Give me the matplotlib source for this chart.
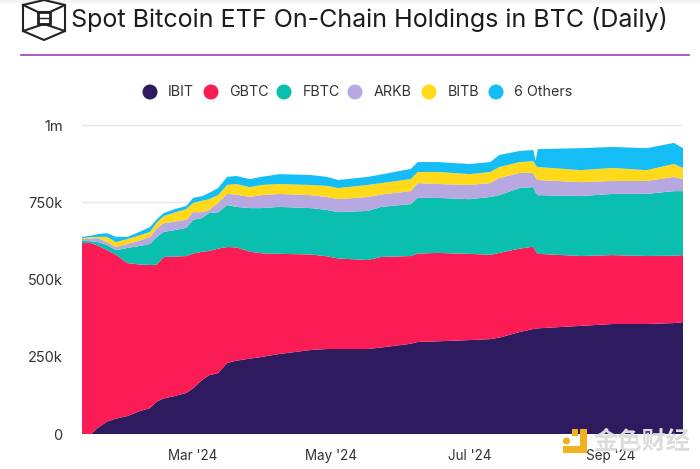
import numpy as np
import pandas as pd
import matplotlib
matplotlib.use("Agg")
import matplotlib.pyplot as plt
from matplotlib.patches import Rectangle, Circle

plt.rcParams['font.family'] = ['Inter', 'Noto Sans CJK SC', 'DejaVu Sans']

# sample dates, the points around 29-31 Jul are the GBTC/6 Others jump
dates = pd.to_datetime([
    "2024-01-12", "2024-01-16", "2024-01-19", "2024-01-23", "2024-01-27", "2024-02-01", "2024-02-06", "2024-02-11",
    "2024-02-14", "2024-02-17", "2024-02-22", "2024-02-27", "2024-03-01", "2024-03-05", "2024-03-08", "2024-03-12",
    "2024-03-16", "2024-03-20", "2024-03-26", "2024-03-31", "2024-04-08", "2024-04-22", "2024-04-29", "2024-05-04",
    "2024-05-17", "2024-05-23", "2024-06-05", "2024-06-08", "2024-06-17", "2024-07-01", "2024-07-10", "2024-07-14",
    "2024-07-23", "2024-07-29", "2024-07-30", "2024-07-31", "2024-08-19", "2024-09-02", "2024-09-17", "2024-09-29",
    "2024-10-03",
])

# stacked levels, thousands of BTC
ibit_top = [0, 0, 20, 40, 50, 58, 73, 84, 105, 115, 123, 133, 148, 175, 190, 197, 230, 237, 244, 249,
            259, 272, 275, 275, 275, 280, 292, 298, 300, 304, 307, 312, 330, 340, 341, 342, 350, 356, 356, 359, 362]
gbtc_top = [618, 618, 610, 595, 580, 553, 549, 547, 548, 573, 574, 576, 584, 590, 592, 600, 605, 604, 590, 585,
            583, 581, 575, 568, 563, 573, 576, 584, 586, 583, 580, 586, 600, 606, 592, 583, 576, 579, 576, 577, 579]
fbtc_top = [625, 624, 621, 612, 595, 602, 608, 615, 638, 654, 660, 667, 693, 699, 715, 717, 741, 735, 731, 731,
            735, 731, 725, 718, 722, 735, 744, 764, 764, 760, 767, 773, 796, 799, 782, 773, 770, 777, 777, 786, 786]
arkb_top = [631, 633, 634, 621, 605, 615, 625, 638, 665, 682, 688, 693, 718, 718, 725, 748, 777, 775, 767, 773,
            777, 773, 767, 760, 767, 775, 786, 812, 809, 806, 812, 828, 845, 845, 830, 822, 815, 819, 819, 832, 825]
bitb_top = [634, 637, 638, 638, 621, 631, 642, 654, 685, 705, 717, 728, 748, 755, 760, 773, 806, 809, 799, 806,
            809, 806, 803, 796, 806, 812, 825, 848, 848, 841, 848, 864, 880, 883, 870, 864, 854, 861, 854, 874, 861]
others_top = [638, 642, 647, 650, 638, 638, 653, 670, 695, 715, 728, 738, 764, 770, 780, 796, 832, 835, 825, 832,
              841, 838, 832, 822, 832, 840, 858, 880, 880, 874, 880, 903, 916, 919, 885, 922, 925, 929, 925, 942, 925]

names = ["IBIT", "GBTC", "FBTC", "ARKB", "BITB", "6 Others"]
colors = ["#2e1a5e", "#fb1c55", "#0abfae", "#b7a8e2", "#ffd91a", "#14bdf5"]
tops = np.array([ibit_top, gbtc_top, fbtc_top, arkb_top, bitb_top, others_top], dtype=float)
holdings = np.diff(tops, axis=0, prepend=0)

y_ticks = [0, 250, 500, 750, 1000]
y_labels = ["0", "250k", "500k", "750k", "1m"]
x_ticks = pd.to_datetime(["2024-03-01", "2024-05-01", "2024-07-01", "2024-09-01"])
x_labels = ["Mar '24", "May '24", "Jul '24", "Sep '24"]

W, H = 700, 469
fig = plt.figure(figsize=(W / 100, H / 100), dpi=100)

ax = fig.add_axes([82 / W, 1 - 434 / H, (683 - 82) / W, (434 - 125) / H])
ax.stackplot(dates, holdings, colors=colors, linewidth=0, zorder=3)
ax.set_xlim(dates[0], dates[-1])
ax.set_ylim(0, 1000)
ax.set_yticks(y_ticks)
ax.set_yticklabels(y_labels)
ax.set_xticks(x_ticks)
ax.set_xticklabels(x_labels)
ax.tick_params(axis="both", length=0, labelsize=10.5, labelcolor="#333333")
ax.tick_params(axis="x", pad=11, labelsize=9.7)
ax.tick_params(axis="y", pad=14)
ax.grid(axis="y", color="#e6e6e6", linewidth=1)
ax.set_axisbelow(True)
for side in ax.spines:
    ax.spines[side].set_visible(False)

# everything around the plot goes on a pixel overlay
deco = fig.add_axes([0, 0, 1, 1], zorder=5)
deco.set_xlim(0, W)
deco.set_ylim(H, 0)
deco.axis("off")
deco.patch.set_alpha(0)

deco.add_patch(Rectangle((0, 0), W, 3, color="#f3f3f3", linewidth=0))
deco.text(71, 20, "Spot Bitcoin ETF On-Chain Holdings in BTC (Daily)", fontsize=18.05,
          color="#1c1c1c", va="center", ha="left")
deco.plot([21, 689], [55, 55], color="#9a3fb8", linewidth=1.2)

# header logo
logo_color = "#222222"
deco.plot([23, 23, 44, 65, 65, 44, 23], [5, 31, 40, 31, 5, 0, 5], color=logo_color, linewidth=1.5)
deco.plot([23, 44, 65], [31, 24, 31], color=logo_color, linewidth=1.5)
deco.plot([23, 38, 50, 65], [5, 12, 12, 5], color=logo_color, linewidth=1.5)
deco.plot([38, 50, 50, 38, 38], [12, 12, 24, 24, 12], color=logo_color, linewidth=2)
deco.plot([38, 50], [18, 18], color=logo_color, linewidth=1)

# legend
marker_x = [150, 211, 284, 355, 429, 496]
label_x = [168, 229, 303, 374, 448, 514]
for name, color, mx, lx in zip(names, colors, marker_x, label_x):
    deco.add_patch(Circle((mx, 92), 7.5, color=color, linewidth=0))
    deco.text(lx, 92.5, name, fontsize=10.3, color="#333333", va="center", ha="left")

# watermark
wm_color = "#f0b020"
deco.add_patch(Rectangle((580, 429), 7, 24, color=wm_color, linewidth=0))
deco.add_patch(Rectangle((563, 446.5), 24, 6.5, color=wm_color, linewidth=0))
deco.add_patch(Rectangle((572, 429), 6, 7, color=wm_color, linewidth=0))
deco.add_patch(Circle((566.5, 441), 3.5, color=wm_color, linewidth=0))
deco.text(594, 442, "金色财经", fontsize=17.5, color="#dcdcdc", va="center", ha="left", fontweight="bold")

fig.savefig("out.png", dpi=100)
